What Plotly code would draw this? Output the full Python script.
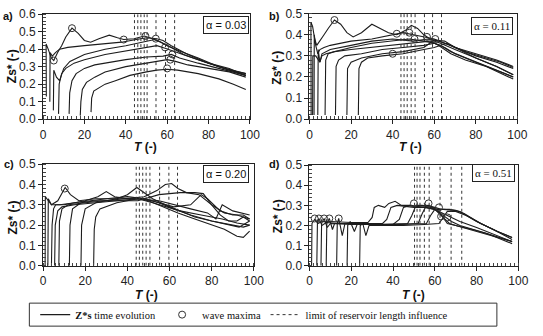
import plotly.graph_objects as go

W, H = 543, 336

# ---------------- data ----------------
# panel a (alpha = 0.03)
a_T = [
    [1.6, 1.5, 2.5, 4, 5.2, 7, 9, 11, 14, 17, 20, 23, 27, 32, 36, 39, 44, 49, 53, 57, 62, 68, 75, 82, 90, 98],
    [3.3, 3.4, 4.5, 6, 8, 12, 20, 30, 38, 45, 50, 55, 58, 62, 70, 80, 90, 98],
    [5, 5.2, 6.5, 8, 10, 13, 20, 30, 40, 48, 54, 57, 60, 66, 75, 85, 98],
    [7.5, 7.8, 9, 11, 15, 20, 30, 40, 50, 55, 59, 63, 70, 80, 90, 98],
    [12.6, 12.9, 14, 16, 20, 25, 30, 40, 50, 58, 62, 66, 75, 85, 98],
    [18, 18.3, 19, 21, 25, 30, 40, 50, 57, 60, 64, 70, 80, 90, 98],
    [23.2, 23.5, 24.5, 27, 30, 35, 42, 50, 55, 60, 65, 75, 85, 92, 98],
]
a_Z = [
    [0.13, 0.43, 0.40, 0.35, 0.335, 0.38, 0.42, 0.47, 0.52, 0.49, 0.45, 0.44, 0.46, 0.48, 0.465, 0.455, 0.46, 0.475, 0.46, 0.44, 0.41, 0.37, 0.34, 0.31, 0.28, 0.26],
    [0.10, 0.38, 0.36, 0.38, 0.40, 0.41, 0.42, 0.43, 0.44, 0.455, 0.465, 0.46, 0.45, 0.42, 0.37, 0.32, 0.29, 0.25],
    [0.05, 0.28, 0.24, 0.22, 0.29, 0.33, 0.37, 0.40, 0.42, 0.44, 0.455, 0.44, 0.42, 0.39, 0.35, 0.30, 0.26],
    [0.03, 0.20, 0.26, 0.29, 0.32, 0.34, 0.37, 0.39, 0.41, 0.42, 0.405, 0.39, 0.36, 0.32, 0.28, 0.25],
    [0.03, 0.15, 0.22, 0.26, 0.29, 0.31, 0.32, 0.34, 0.355, 0.36, 0.37, 0.35, 0.32, 0.29, 0.25],
    [0.02, 0.10, 0.17, 0.21, 0.24, 0.27, 0.30, 0.32, 0.33, 0.34, 0.33, 0.31, 0.29, 0.27, 0.24],
    [0.04, 0.12, 0.16, 0.18, 0.20, 0.22, 0.25, 0.27, 0.28, 0.285, 0.28, 0.26, 0.23, 0.20, 0.17],
]
a_maxT = [14, 5.2, 39, 49.5, 54.5, 59, 62.5, 61.5, 60]
a_maxZ = [0.52, 0.335, 0.455, 0.475, 0.46, 0.41, 0.37, 0.34, 0.29]
a_lim = [44.2, 45.8, 47.3, 48.9, 50.3, 54.6, 59.2, 63.6]

# panel b (alpha = 0.11)
b_T = [
    [0.8, 0.7, 1.5, 2.5, 3.5, 5, 7, 9, 12, 15, 18, 21, 25, 30, 34, 38, 42, 46, 49, 52, 55, 58, 62, 68, 75, 85, 92, 98],
    [2.2, 2.3, 3, 4, 5, 7, 10, 20, 30, 40, 45, 50, 55, 60, 65, 70, 80, 90, 98],
    [4, 4.2, 5, 6, 8, 12, 20, 30, 40, 48, 55, 60, 65, 70, 80, 90, 98],
    [7.5, 7.8, 9, 12, 20, 30, 40, 50, 58, 62, 68, 75, 85, 98],
    [12.5, 12.8, 14, 17, 25, 35, 45, 55, 60, 63, 68, 78, 88, 98],
    [18, 18.3, 20, 25, 35, 45, 55, 60, 65, 70, 80, 90, 98],
    [23.5, 23.8, 25, 28, 35, 45, 55, 60, 66, 72, 80, 90, 98],
    [1.5, 1.6, 3, 5, 6, 10, 20, 30, 40, 50, 57, 63, 70, 80, 90, 98],
]
b_Z = [
    [0.02, 0.46, 0.44, 0.38, 0.35, 0.37, 0.40, 0.43, 0.47, 0.45, 0.41, 0.39, 0.41, 0.45, 0.43, 0.41, 0.40, 0.42, 0.445, 0.43, 0.40, 0.38, 0.37, 0.35, 0.32, 0.29, 0.27, 0.245],
    [0.02, 0.40, 0.35, 0.31, 0.33, 0.34, 0.35, 0.37, 0.38, 0.40, 0.41, 0.40, 0.39, 0.38, 0.36, 0.34, 0.31, 0.28, 0.25],
    [0.02, 0.33, 0.27, 0.30, 0.31, 0.32, 0.34, 0.36, 0.37, 0.38, 0.37, 0.36, 0.34, 0.31, 0.27, 0.23, 0.20],
    [0.02, 0.28, 0.31, 0.32, 0.33, 0.34, 0.35, 0.36, 0.37, 0.35, 0.31, 0.28, 0.25, 0.19],
    [0.02, 0.25, 0.28, 0.30, 0.31, 0.33, 0.34, 0.35, 0.36, 0.35, 0.32, 0.28, 0.24, 0.20],
    [0.02, 0.24, 0.27, 0.29, 0.31, 0.32, 0.34, 0.375, 0.37, 0.34, 0.30, 0.27, 0.24],
    [0.02, 0.24, 0.27, 0.29, 0.30, 0.31, 0.33, 0.34, 0.36, 0.33, 0.29, 0.25, 0.21],
    [0.02, 0.30, 0.30, 0.27, 0.31, 0.33, 0.35, 0.37, 0.38, 0.37, 0.38, 0.36, 0.33, 0.29, 0.25, 0.21],
]
b_maxT = [12, 42, 48, 50.5, 56.5, 60.5, 40]
b_maxZ = [0.47, 0.405, 0.41, 0.38, 0.39, 0.38, 0.31]
b_lim = [44.0, 45.5, 47.0, 48.9, 50.8, 55.3, 59.2, 63.5]

# panel c (alpha = 0.20)
c_T = [
    [1.0, 1.1, 2.5, 4, 7, 10.5, 13, 17, 25, 35, 45, 52, 58, 65, 75, 85, 92, 98],
    [4, 4.3, 5, 6, 10, 20, 26, 30, 34, 40, 48, 55, 62, 70, 80, 88, 93, 98],
    [5.5, 5.8, 7, 9, 15, 25, 35, 40, 44.5, 48, 52, 58, 65, 72, 80, 90, 95, 98],
    [7.5, 7.8, 9, 12, 20, 30, 40, 48, 54, 58, 61, 64, 68, 74, 80, 86, 92, 98],
    [12.5, 12.8, 14, 18, 25, 35, 45, 55, 65, 72, 76, 80, 84, 88, 92, 95, 98],
    [18, 18.3, 20, 25, 35, 45, 55, 62, 70, 78, 82, 85, 90, 98],
    [24, 24.3, 25, 27, 35, 45, 50, 57, 64, 72, 80, 86, 92, 95, 98],
    [2.3, 2.5, 4, 8, 15, 22, 30, 40, 48, 55, 62, 70, 75, 78, 84, 90, 95, 98],
]
c_Z = [
    [0.0, 0.34, 0.32, 0.30, 0.32, 0.385, 0.35, 0.32, 0.33, 0.33, 0.33, 0.31, 0.29, 0.27, 0.25, 0.23, 0.21, 0.20],
    [0.0, 0.20, 0.28, 0.30, 0.30, 0.32, 0.34, 0.365, 0.34, 0.33, 0.33, 0.31, 0.28, 0.25, 0.22, 0.20, 0.19, 0.22],
    [0.0, 0.20, 0.27, 0.29, 0.30, 0.31, 0.33, 0.35, 0.385, 0.36, 0.33, 0.30, 0.27, 0.24, 0.22, 0.20, 0.19, 0.20],
    [0.0, 0.22, 0.28, 0.30, 0.31, 0.32, 0.33, 0.34, 0.37, 0.40, 0.405, 0.38, 0.36, 0.35, 0.30, 0.26, 0.25, 0.23],
    [0.0, 0.20, 0.28, 0.31, 0.32, 0.32, 0.32, 0.35, 0.36, 0.36, 0.355, 0.30, 0.25, 0.22, 0.22, 0.24, 0.22],
    [0.0, 0.20, 0.28, 0.31, 0.32, 0.33, 0.32, 0.30, 0.28, 0.26, 0.23, 0.30, 0.27, 0.25],
    [0.0, 0.18, 0.24, 0.28, 0.31, 0.33, 0.32, 0.29, 0.26, 0.23, 0.20, 0.18, 0.145, 0.14, 0.17],
    [0.0, 0.33, 0.30, 0.30, 0.31, 0.32, 0.33, 0.34, 0.33, 0.31, 0.29, 0.30, 0.35, 0.33, 0.27, 0.25, 0.25, 0.23],
]
c_maxT = [10.3]
c_maxZ = [0.38]
c_lim = [44.2, 45.7, 47.3, 48.9, 50.7, 55.3, 59.7, 63.8]

# panel d (alpha = 0.51)
d_T = [
    [1, 1.2, 2.5, 4, 6, 10, 20, 28, 30, 31, 33, 36, 38, 41, 44, 48, 52, 56, 60, 64, 68, 72, 78, 85, 92, 97],
    [3.5, 3.8, 4.5, 6, 8, 15, 25, 35, 37, 39, 42, 45, 50, 55, 60, 65, 67, 70, 78, 88, 97],
    [5.5, 5.8, 7, 8.5, 10, 20, 30, 40, 43, 45, 48, 52, 57, 61, 64, 66, 70, 80, 90, 97],
    [8, 8.3, 9.5, 11, 12, 20, 30, 40, 47, 49, 51, 54, 58, 62, 66, 72, 80, 90, 97],
    [13, 13.3, 14, 15.7, 17, 25, 35, 45, 52, 54, 56, 60, 63, 67, 72, 80, 88, 97],
    [18, 18.3, 19.5, 21.5, 23, 30, 40, 50, 56, 58, 60, 64, 70, 74, 82, 90, 97],
    [24, 24.3, 25.5, 27, 28.5, 35, 45, 55, 62, 64, 66, 70, 75, 82, 90, 97],
]
d_Z = [
    [0.0, 0.21, 0.23, 0.21, 0.22, 0.22, 0.215, 0.215, 0.24, 0.29, 0.30, 0.29, 0.31, 0.32, 0.30, 0.30, 0.29, 0.29, 0.28, 0.25, 0.22, 0.20, 0.18, 0.16, 0.13, 0.11],
    [0.0, 0.21, 0.235, 0.20, 0.215, 0.21, 0.21, 0.21, 0.23, 0.29, 0.30, 0.295, 0.29, 0.29, 0.28, 0.23, 0.21, 0.20, 0.18, 0.15, 0.12],
    [0.0, 0.21, 0.235, 0.19, 0.21, 0.205, 0.205, 0.205, 0.23, 0.29, 0.30, 0.295, 0.30, 0.28, 0.24, 0.21, 0.20, 0.17, 0.14, 0.12],
    [0.0, 0.21, 0.235, 0.18, 0.21, 0.21, 0.205, 0.21, 0.21, 0.25, 0.30, 0.30, 0.29, 0.27, 0.25, 0.22, 0.19, 0.15, 0.12],
    [0.0, 0.21, 0.235, 0.15, 0.21, 0.21, 0.20, 0.205, 0.21, 0.26, 0.30, 0.29, 0.28, 0.28, 0.27, 0.22, 0.18, 0.13],
    [0.0, 0.20, 0.22, 0.17, 0.21, 0.205, 0.205, 0.21, 0.21, 0.25, 0.28, 0.28, 0.275, 0.26, 0.21, 0.17, 0.14],
    [0.0, 0.20, 0.21, 0.15, 0.20, 0.20, 0.20, 0.205, 0.21, 0.24, 0.27, 0.27, 0.25, 0.21, 0.17, 0.14],
]
d_maxT = [2.5, 4.5, 7, 9.5, 14, 50, 57, 62, 63, 66]
d_maxZ = [0.235, 0.235, 0.235, 0.235, 0.235, 0.31, 0.31, 0.29, 0.245, 0.24]
d_lim = [50.3, 51.5, 52.9, 55.0, 57.3, 62.5, 67.8, 72.9]

alphas = ["α = 0.03", "α = 0.11", "α = 0.20", "α = 0.51"]
panel_labels = ["a)", "b)", "c)", "d)"]
y_max = [0.6, 0.5, 0.5, 0.5]
legend_names = ["<b>Z*s</b> time evolution", "wave maxima", "limit of reservoir length influence"]

# ---------------- layout geometry (pixels) ----------------
def fx(px):
    return px / W

def fy(py):
    return 1 - py / H

# (x0, x1, ytop, ybottom)
boxes = [(41, 253, 7.5, 117), (314, 527, 7, 117), (41, 257, 164, 270), (314, 528, 165, 270)]

LINE = "#1c1c1c"
fig = go.Figure()

panels = [(a_T, a_Z, a_maxT, a_maxZ, a_lim),
          (b_T, b_Z, b_maxT, b_maxZ, b_lim),
          (c_T, c_Z, c_maxT, c_maxZ, c_lim),
          (d_T, d_Z, d_maxT, d_maxZ, d_lim)]

for i, (Ts, Zs, mT, mZ, lims) in enumerate(panels):
    xa = "x" if i == 0 else f"x{i+1}"
    ya = "y" if i == 0 else f"y{i+1}"
    for k, (t, z) in enumerate(zip(Ts, Zs)):
        fig.add_trace(go.Scatter(x=t, y=z, mode="lines", xaxis=xa, yaxis=ya,
                                 line=dict(color=LINE, width=1.1),
                                 name=legend_names[0], legend="legend",
                                 showlegend=(i == 0 and k == 0), hoverinfo="skip"))
    for k, t in enumerate(lims):
        fig.add_trace(go.Scatter(x=[t, t], y=[0, y_max[i]], mode="lines", xaxis=xa, yaxis=ya,
                                 line=dict(color="#333", width=1, dash="dot"),
                                 name=legend_names[2], legend="legend3",
                                 showlegend=(i == 0 and k == 0), hoverinfo="skip"))
    fig.add_trace(go.Scatter(x=mT, y=mZ, mode="markers", xaxis=xa, yaxis=ya,
                             marker=dict(symbol="circle-open", size=7, color="#333",
                                         line=dict(width=1, color="#333")),
                             name=legend_names[1], legend="legend2",
                             showlegend=(i == 0), hoverinfo="skip"))

axis_font = dict(family="Liberation Sans, Arial", size=12, color="#222")
for i, (x0, x1, yt, yb) in enumerate(boxes):
    sx = "" if i == 0 else str(i + 1)
    fig.layout["xaxis" + sx] = dict(
        domain=[fx(x0), fx(x1)], range=[0, 100], anchor="y" + sx,
        tickvals=[0, 20, 40, 60, 80, 100], ticks="outside", ticklen=4, tickcolor="#222",
        showgrid=False, zeroline=False, showline=True, linecolor="#222", linewidth=1,
        mirror=True, tickfont=axis_font,
        minor=dict(dtick=2, ticks="inside", ticklen=3, tickcolor="#444", showgrid=False))
    fig.layout["yaxis" + sx] = dict(
        domain=[fy(yb), fy(yt)], range=[0, y_max[i]], anchor="x" + sx,
        dtick=0.1, tickformat=".1f", ticks="outside", ticklen=4, tickcolor="#222",
        showgrid=False, zeroline=False, showline=True, linecolor="#222", linewidth=1,
        mirror=True, tickfont=axis_font,
        minor=dict(dtick=0.02, ticks="inside", ticklen=3, tickcolor="#444", showgrid=False))

ann = []
alpha_pos = [(228.5, 19), (501, 19.5), (228.5, 174), (503, 173.5)]
alpha_font = ["Liberation Sans, Arial", "Liberation Serif, Times New Roman",
              "Liberation Sans, Arial", "Liberation Serif, Times New Roman"]
label_pos = [(5, 9), (278, 9), (6, 164), (278, 164)]
ytitle_pos = [(10, 62), (281, 63), (10, 220), (282, 218)]
xtitle_pos = [(146, 146), (418, 146), (147, 300), (421, 301)]
for i in range(4):
    ax_, ay_ = alpha_pos[i]
    ann.append(dict(x=fx(ax_), y=fy(ay_), xref="paper", yref="paper", text=alphas[i],
                    showarrow=False, xanchor="center", yanchor="middle",
                    font=dict(family=alpha_font[i], size=11, color="#111"),
                    bordercolor="#222", borderwidth=1, borderpad=2, bgcolor="white"))
    lx, ly = label_pos[i]
    ann.append(dict(x=fx(lx), y=fy(ly), xref="paper", yref="paper", text="<b>" + panel_labels[i] + "</b>",
                    showarrow=False, xanchor="center", yanchor="middle",
                    font=dict(family="Liberation Sans, Arial", size=11, color="#111")))
    tx, ty = ytitle_pos[i]
    ann.append(dict(x=fx(tx), y=fy(ty), xref="paper", yref="paper", text="<b>Zs* (-)</b>",
                    showarrow=False, xanchor="center", yanchor="middle", textangle=-90,
                    font=dict(family="Liberation Sans, Arial", size=12, color="#111")))
    tx, ty = xtitle_pos[i]
    ann.append(dict(x=fx(tx), y=fy(ty), xref="paper", yref="paper", text="<b><i>T</i> (-)</b>",
                    showarrow=False, xanchor="center", yanchor="middle",
                    font=dict(family="Liberation Sans, Arial", size=12, color="#111")))

leg_font = dict(family="Liberation Serif, Times New Roman", size=10.5, color="#111")
def leg(xpx):
    return dict(orientation="h", x=fx(xpx), y=fy(321), xanchor="left", yanchor="middle",
                font=leg_font, bgcolor="rgba(0,0,0,0)", borderwidth=0)

fig.update_layout(
    width=W, height=H, margin=dict(l=0, r=0, t=0, b=0),
    paper_bgcolor="white", plot_bgcolor="white",
    annotations=ann,
    shapes=[dict(type="rect", xref="paper", yref="paper", x0=fx(27), x1=fx(506),
                 y0=fy(333), y1=fy(309), line=dict(color="#333", width=1))],
    showlegend=True,
    legend=leg(33), legend2=leg(163), legend3=leg(269),
)

fig.write_html("out.html")
